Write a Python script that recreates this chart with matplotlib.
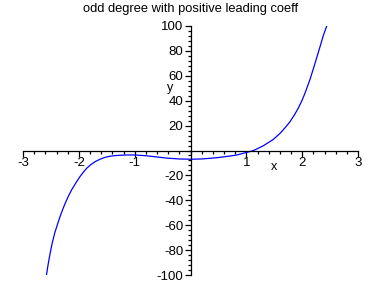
import matplotlib
matplotlib.use('Agg')
import matplotlib.pyplot as plt
from matplotlib.ticker import MultipleLocator, FixedLocator

# points
xs = [-2.60, -2.58, -2.55, -2.52, -2.48, -2.43, -2.38, -2.34, -2.29, -2.25, -2.19,
      -2.13, -2.06, -1.98, -1.92, -1.86, -1.78, -1.71, -1.62, -1.53, -1.44, -1.35,
      -1.25, -1.15, -1.05, -0.96, -0.80, -0.60, -0.43, -0.20, 0.00, 0.20, 0.47,
      0.70, 0.83, 0.95, 1.05, 1.13, 1.30, 1.48, 1.60, 1.70, 1.78, 1.86, 1.93,
      2.00, 2.05, 2.14, 2.23, 2.32, 2.38, 2.44, 2.46]
ys = [-106, -100, -91.5, -84, -75, -66, -59, -53.5, -47.5, -43, -37,
      -31.7, -26.5, -21, -17.5, -14.3, -11.2, -9, -7, -5.5, -4.6, -4.1,
      -3.8, -3.6, -3.6, -3.7, -4.2, -5.2, -6.1, -6.8, -7, -6.8, -5.8,
      -4.5, -3.6, -2.2, -1, 0, 3.7, 8.8, 13.6, 18.6, 23, 28.5, 34,
      40.5, 46, 57, 70, 83.4, 92.5, 100, 103]

title = 'odd degree with positive leading coeff'
xticks = [-3, -2, -1, 1, 2, 3]
yticks = [-100, -80, -60, -40, -20, 20, 40, 60, 80, 100]

fig = plt.figure(figsize=(3.81, 2.83), dpi=100)
ax = fig.add_axes([23 / 381, 1 - 275 / 283, 335 / 381, 249 / 283])
ax.plot(xs, ys, color='#0000ff', lw=0.9)
ax.set_xlim(-3, 3)
ax.set_ylim(-100, 100)

for s in ['top', 'right']:
    ax.spines[s].set_visible(False)
ax.spines['left'].set_position(('data', 0))
ax.spines['bottom'].set_position(('data', 0))
for s in ['left', 'bottom']:
    ax.spines[s].set_linewidth(0.9)

ax.xaxis.set_major_locator(FixedLocator(xticks))
ax.yaxis.set_major_locator(FixedLocator(yticks))
ax.xaxis.set_minor_locator(MultipleLocator(0.2))
ax.yaxis.set_minor_locator(MultipleLocator(4))
ax.set_xticklabels([str(v) for v in xticks])
ax.set_yticklabels([str(v) for v in yticks])
ax.tick_params(which='major', length=4, width=0.9, pad=1, labelsize=9.5)
ax.tick_params(which='minor', length=2, width=0.9)
for lab in ax.get_xticklabels() + ax.get_yticklabels():
    lab.set_family('Liberation Sans')

ax.text(-0.37, 50, 'y', fontsize=9, family='Liberation Sans', ha='center', va='center')
ax.text(1.5, -13, 'x', fontsize=9, family='Liberation Sans', ha='center', va='center')
fig.text(0.5, 1 - 9 / 283, title, fontsize=9.3, family='Liberation Sans',
         ha='center', va='center')

fig.savefig('out.png', dpi=100)
